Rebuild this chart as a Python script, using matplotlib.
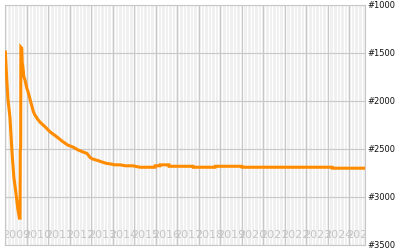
import numpy as np
import matplotlib
matplotlib.use('Agg')
import matplotlib.pyplot as plt
from matplotlib.transforms import blended_transform_factory

# rank history (decimal year, rank)
years = [2009.00, 2009.02, 2009.07, 2009.12, 2009.21, 2009.30, 2009.39, 2009.49,
         2009.58, 2009.65, 2009.68, 2009.69, 2009.71, 2009.72, 2009.76, 2009.78,
         2009.81, 2009.86, 2009.91, 2010.00, 2010.05, 2010.19, 2010.30, 2010.37,
         2010.50, 2010.61, 2010.85, 2011.07, 2011.40, 2011.65, 2011.91, 2012.15,
         2012.38, 2012.60, 2012.79, 2012.95, 2013.07, 2013.30, 2013.49, 2013.70,
         2013.87, 2014.10, 2014.33, 2014.60, 2014.94, 2015.26, 2015.96, 2015.97,
         2016.19, 2016.20, 2016.61, 2016.62, 2017.73, 2017.74, 2018.76, 2018.77,
         2020.01, 2020.02, 2024.21, 2024.22, 2025.74]
ranks = [1490, 1590, 1810, 1990, 2170, 2510, 2790, 2960,
         3130, 3220, 3220, 2520, 2480, 1440, 1450, 1600,
         1640, 1750, 1780, 1870, 1900, 2020, 2110, 2145,
         2190, 2220, 2270, 2320, 2375, 2420, 2460, 2480,
         2510, 2530, 2545, 2590, 2605, 2620, 2635, 2650,
         2655, 2665, 2665, 2675, 2675, 2690, 2690, 2675,
         2675, 2665, 2665, 2680, 2680, 2690, 2690, 2680,
         2680, 2690, 2690, 2700, 2700]

year_labels = list(range(2009, 2026))
rank_ticks = [1000, 1500, 2000, 2500, 3000, 3500]

fig = plt.figure(figsize=(4, 2.5), dpi=100)
ax = fig.add_axes([5 / 400, 5 / 250, 360 / 400, 240 / 250])
ax.set_facecolor('#f0f0f0')

# light stripes between the year lines
for y in year_labels:
    for m in range(1, 12, 2):
        ax.axvline(y + m / 12, color='white', lw=0.8, zorder=0.5)

ax.set_xlim(2008.98, 2025.74)
ax.set_ylim(3500, 1000)

ax.set_xticks(year_labels[1:])
ax.set_yticks(rank_ticks)
ax.grid(True, color='#c8c8c8', lw=0.8, zorder=1)
ax.set_axisbelow(True)
ax.tick_params(axis='x', length=0, labelbottom=False)
ax.yaxis.tick_right()
ax.tick_params(axis='y', length=0, pad=2, labelsize=6, labelcolor='#111111')
ax.set_yticklabels(['#%d' % r for r in rank_ticks])

trans = blended_transform_factory(ax.transData, ax.transAxes)
for y in year_labels:
    ax.text(y + 0.5, 0.04, str(y), transform=trans, ha='center', va='center',
            fontsize=8, color='#c4c4c4', zorder=1.5, clip_on=True)

for s in ax.spines.values():
    s.set_color('#c8c8c8')
    s.set_linewidth(0.8)

ax.plot(years, ranks, color='#ff8c00', lw=2.2, zorder=3, solid_joinstyle='miter')

fig.savefig('out.png', dpi=100)
